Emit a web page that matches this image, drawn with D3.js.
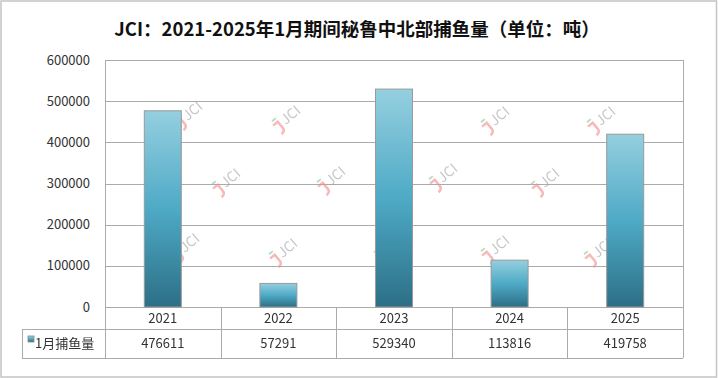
<!DOCTYPE html>
<html>
<head>
<meta charset="utf-8">
<script src="https://cdn.jsdelivr.net/npm/d3@7"></script>
<style>
  body { margin: 0; background: #fff; }
  text { font-family: "Noto Sans CJK SC", "Noto Sans", sans-serif; }
</style>
</head>
<body>
<div id="chart"></div>
<script>
// Data
const years = ["2021", "2022", "2023", "2024", "2025"];
const catch2021_2025 = [476611, 57291, 529340, 113816, 419758];
const yTicks = [0, 100000, 200000, 300000, 400000, 500000, 600000];
const seriesName = "1月捕鱼量";
const title = "JCI：2021-2025年1月期间秘鲁中北部捕鱼量（单位：吨）";

const W = 718, H = 378;
const plot = {left: 105, right: 683, top: 60, bottom: 307};
const tableLeft = 22, rowMid = 329, tableBottom = 358;
const gridColor = "#ababab";

const svg = d3.select("#chart").append("svg")
  .attr("width", W).attr("height", H);

// Gradient for bars
const defs = svg.append("defs");
const grad = defs.append("linearGradient")
  .attr("id", "barGrad").attr("x1", 0).attr("y1", 0).attr("x2", 0).attr("y2", 1);
grad.append("stop").attr("offset", "0%").attr("stop-color", "#95cfdf");
grad.append("stop").attr("offset", "50%").attr("stop-color", "#4eaac6");
grad.append("stop").attr("offset", "100%").attr("stop-color", "#2c6f86");

// Outer frame
svg.append("rect")
  .attr("x", 1).attr("y", 1).attr("width", W - 2.5).attr("height", H - 2)
  .attr("fill", "#fff").attr("stroke", "#c4c4c4").attr("stroke-width", 1.5);

// Title
svg.append("text")
  .attr("x", 357).attr("y", 36)
  .attr("text-anchor", "middle")
  .style("font-size", "18.5px").style("font-weight", "bold")
  .attr("fill", "#111")
  .text(title);

// Scales
const x = d3.scaleBand().domain(years).range([plot.left, plot.right]).paddingInner(0).paddingOuter(0);
const y = d3.scaleLinear().domain([0, 600000]).range([plot.bottom, plot.top]);
const barW = x.bandwidth() * 0.32;

// Gridlines
svg.append("g")
  .selectAll("line")
  .data(yTicks)
  .join("line")
  .attr("x1", plot.left).attr("x2", plot.right)
  .attr("y1", d => Math.round(y(d)) + 0.5).attr("y2", d => Math.round(y(d)) + 0.5)
  .attr("stroke", gridColor);

// Right border of plot
svg.append("line")
  .attr("x1", plot.right + 0.5).attr("x2", plot.right + 0.5)
  .attr("y1", plot.top).attr("y2", tableBottom)
  .attr("stroke", gridColor);

// Y labels
svg.append("g")
  .selectAll("text")
  .data(yTicks)
  .join("text")
  .attr("x", 90).attr("y", d => y(d) + 4.5)
  .attr("text-anchor", "end")
  .style("font-size", "13px").attr("fill", "#333")
  .text(d => d);

// Watermarks (logo: red hook, green dash, grey "JCI", tilted)
const marks = [
  [190, 113], [288, 117], [393, 115], [497, 118], [603, 118],
  [228, 180], [333, 178], [445, 175], [547, 180],
  [187, 245], [285, 250], [390, 248], [497, 247], [600, 250]
];
const wm = svg.append("g").attr("opacity", 0.6);
marks.forEach(([mx, my]) => {
  const g = wm.append("g").attr("transform", `translate(${mx},${my}) rotate(-40)`);
  g.append("path")
    .attr("d", "M-17,-3 L-11,-3 L-11,5 Q-11,9 -16,9")
    .attr("fill", "none").attr("stroke", "#f28b8b").attr("stroke-width", 2.5);
  g.append("line").attr("x1", -15).attr("x2", -10).attr("y1", -7).attr("y2", -7)
    .attr("stroke", "#80c89b").attr("stroke-width", 1.8);
  g.append("text").attr("x", -7).attr("y", 5)
    .style("font-size", "14px")
    .attr("fill", "#a0a0a0").text("JCI");
});

// Bars
svg.append("g")
  .selectAll("rect")
  .data(years)
  .join("rect")
  .attr("x", d => x(d) + x.bandwidth() / 2 - barW / 2)
  .attr("y", (d, i) => y(catch2021_2025[i]))
  .attr("width", barW)
  .attr("height", (d, i) => y(0) - y(catch2021_2025[i]))
  .attr("fill", "url(#barGrad)")
  .attr("stroke", "#9a9a9a").attr("stroke-width", 1);

// Table lines
const t = svg.append("g").attr("stroke", gridColor).attr("fill", "none");
t.append("line").attr("x1", plot.left + 0.5).attr("x2", plot.left + 0.5)
  .attr("y1", plot.top).attr("y2", tableBottom);
t.append("line").attr("x1", tableLeft + 0.5).attr("x2", tableLeft + 0.5)
  .attr("y1", rowMid).attr("y2", tableBottom);
t.append("line").attr("x1", tableLeft).attr("x2", plot.right)
  .attr("y1", rowMid + 0.5).attr("y2", rowMid + 0.5);
t.append("line").attr("x1", tableLeft).attr("x2", plot.right)
  .attr("y1", tableBottom + 0.5).attr("y2", tableBottom + 0.5);
t.selectAll("line.col")
  .data(years.slice(1))
  .join("line")
  .attr("class", "col")
  .attr("x1", d => Math.round(x(d)) + 0.5).attr("x2", d => Math.round(x(d)) + 0.5)
  .attr("y1", plot.bottom).attr("y2", tableBottom);

// Category row
svg.append("g")
  .selectAll("text")
  .data(years)
  .join("text")
  .attr("x", d => x(d) + x.bandwidth() / 2)
  .attr("y", 323)
  .attr("text-anchor", "middle")
  .style("font-size", "13px").attr("fill", "#333")
  .text(d => d);

// Value row
svg.append("g")
  .selectAll("text")
  .data(years)
  .join("text")
  .attr("x", d => x(d) + x.bandwidth() / 2)
  .attr("y", 348)
  .attr("text-anchor", "middle")
  .style("font-size", "13px").attr("fill", "#333")
  .text((d, i) => catch2021_2025[i]);

// Legend key
svg.append("rect")
  .attr("x", 28).attr("y", 336).attr("width", 6).attr("height", 6)
  .attr("fill", "url(#barGrad)").attr("stroke", "#888").attr("stroke-width", 0.8);
svg.append("text")
  .attr("x", 35).attr("y", 348)
  .style("font-size", "13px").attr("fill", "#333")
  .text(seriesName);
</script>
</body>
</html>
